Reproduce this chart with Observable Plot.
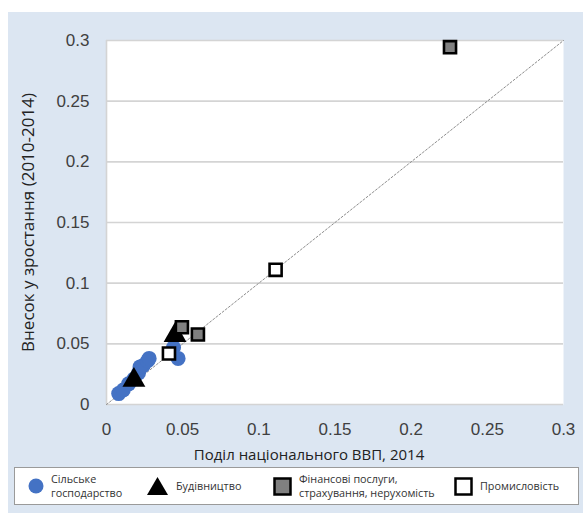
<!DOCTYPE html>
<html><head><meta charset="utf-8">
<script src="https://cdn.jsdelivr.net/npm/d3@7"></script>
<script src="https://cdn.jsdelivr.net/npm/@observablehq/plot@0.6"></script>
<style>
html,body{margin:0;padding:0;background:#fff;}
#wrap{position:absolute;left:8px;top:12px;width:575px;height:501px;background:#dce6f2;}
#legend{position:absolute;left:6px;top:455px;width:565px;height:38px;background:#fff;border:1px solid #9a9a9a;box-sizing:border-box;font-family:"Open Sans",sans-serif;font-size:10.8px;color:#333;line-height:14px;}
.it{position:absolute;top:0;height:36px;display:flex;align-items:center;white-space:nowrap;}
.it svg{margin-right:7px;}
</style></head><body>
<div id="wrap"><div id="chart"></div><div id="legend"></div></div>
<script>
const agriX = [0.008, 0.011, 0.0145, 0.018, 0.021, 0.022, 0.024, 0.027, 0.028, 0.044, 0.047];
const agriY = [0.009, 0.012, 0.017, 0.021, 0.026, 0.031, 0.032, 0.036, 0.038, 0.047, 0.038];
const constrX = [0.018, 0.045];
const constrY = [0.020, 0.057];
const finX = [0.2255, 0.0495, 0.060];
const finY = [0.2945, 0.0637, 0.0577];
const indX = [0.111, 0.041];
const indY = [0.111, 0.042];
const ticks = [0, 0.05, 0.1, 0.15, 0.2, 0.25, 0.3];
const tickLabels = ["0", "0.05", "0.1", "0.15", "0.2", "0.25", "0.3"];
const diag = [0, 0.3];
const legendLabels = ["Сільське<br>господарство", "Будівництво", "Фінансові послуги,<br>страхування, нерухомість", "Промисловість"];

const toRows = (xs, ys) => xs.map((x, i) => ({x, y: ys[i]}));
const fmt = d => tickLabels[ticks.indexOf(d)];

const chart = Plot.plot({
  width: 575, height: 452,
  marginLeft: 98, marginRight: 20, marginTop: 28, marginBottom: 60,
  style: {background: "transparent", fontFamily: "'Liberation Sans', Arial, sans-serif"},
  x: {domain: [0, 0.3], ticks: ticks, tickFormat: fmt},
  y: {domain: [0, 0.3], ticks: ticks, tickFormat: fmt},
  marks: [
    Plot.frame({fill: "white", stroke: null}),
    Plot.gridY(ticks, {stroke: "#d4d4d4", strokeOpacity: 1, strokeWidth: 1.6}),
    Plot.ruleX([0], {stroke: "#d4d4d4", strokeWidth: 1.6}),
    Plot.line(diag.map(v => ({x: v, y: v})), {x: "x", y: "y", stroke: "#8c8c8c", strokeWidth: 1, strokeDasharray: "2,2"}),
    Plot.axisX(ticks, {tickSize: 0, tickPadding: 18, fontSize: 17, fill: "#404040", tickFormat: fmt, label: null}),
    Plot.axisY(ticks, {tickSize: 0, tickPadding: 17, fontSize: 17, fill: "#404040", tickFormat: fmt, label: null}),
    Plot.text(["Поділ національного ВВП, 2014"], {frameAnchor: "bottom", textAnchor: "middle", lineAnchor: "middle", dx: -26, dy: 51, fontSize: 15, fill: "#222", fontFamily: "'Open Sans', sans-serif"}),
    Plot.text(["Внесок у зростання (2010-2014)"], {frameAnchor: "left", textAnchor: "middle", lineAnchor: "middle", dx: -78, rotate: -90, fontSize: 17, fill: "#222", fontFamily: "'Open Sans', sans-serif"}),
    Plot.dot(toRows(agriX, agriY), {x: "x", y: "y", r: 7.5, fill: "#4472c4", stroke: "none"}),
    Plot.dot(toRows(constrX, constrY), {x: "x", y: "y", symbol: "triangle", r: 8.5, fill: "#000"}),
    Plot.dot(toRows(finX, finY), {x: "x", y: "y", symbol: "square", r: 6.8, fill: "#808080", stroke: "#000", strokeWidth: 2.6}),
    Plot.dot(toRows(indX, indY), {x: "x", y: "y", symbol: "square", r: 6.8, fill: "#fff", stroke: "#000", strokeWidth: 2.6})
  ]
});
document.getElementById("chart").appendChild(chart);

const syms = [
  '<svg width="16" height="16"><circle cx="8" cy="8" r="7.5" fill="#4472c4"/></svg>',
  '<svg width="23" height="20"><path d="M11.5 1 L22 19 L1 19 Z" fill="#000"/></svg>',
  '<svg width="19" height="19"><rect x="1.5" y="1.5" width="16" height="16" fill="#808080" stroke="#000" stroke-width="2.5"/></svg>',
  '<svg width="19" height="19"><rect x="1.5" y="1.5" width="16" height="16" fill="#fff" stroke="#000" stroke-width="2.5"/></svg>'
];
const lefts = [13, 131, 258, 439];
const leg = document.getElementById("legend");
legendLabels.forEach((t, i) => {
  const d = document.createElement("div");
  d.className = "it";
  d.style.left = lefts[i] + "px";
  d.innerHTML = syms[i] + "<span>" + t + "</span>";
  leg.appendChild(d);
});
</script>
</body></html>
